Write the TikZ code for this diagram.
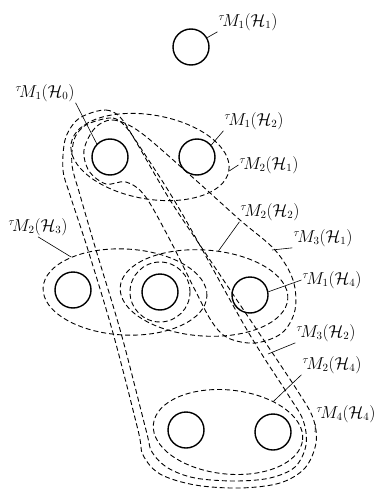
\documentclass[tikz,border=0pt]{standalone}
\usepackage{amsmath}
\usepackage{amssymb}
\usepackage{tikz}
\usetikzlibrary{shapes.geometric,calc}

\begin{document}
\begin{tikzpicture}[x=1pt, y=-1pt]
        % Style definitions
        \tikzset{
            ball/.style={draw, circle, minimum size=36pt, inner sep=0pt, line width=1.4pt},
            hull/.style={draw, dash pattern=on 5pt off 3pt, line width=0.9pt},
            oval/.style={hull, ellipse, inner sep=0pt},
            tag/.style={font=\fontsize{16}{18}\selectfont, inner sep=1pt},
            lead/.style={line width=0.6pt}
        }
        \useasboundingbox (0,0) rectangle (377,492);

        % Sets
        \node [ball] (T) at (191,47) {};
        \node [ball] (A) at (110,157) {};
        \node [ball] (B) at (197,157) {};
        \node [ball] (C) at (73,290) {};
        \node [ball] (D) at (160,292) {};
        \node [ball] (E) at (250,295) {};
        \node [ball] (F) at (186,430) {};
        \node [ball] (G) at (273,432) {};

        % Neighbourhoods
        \node [oval, minimum width=160pt, minimum height=84pt, rotate=-10] (AB) at (150,157) {};
        \node [oval, minimum width=164pt, minimum height=86pt, rotate=-3] (CD) at (125,292) {};
        \node [oval, minimum width=168pt, minimum height=86pt, rotate=-4] (DE) at (204,293) {};
        \node [hull, circle, minimum size=60pt, inner sep=0pt] (ringD) at (160,292) {};
        \node [oval, minimum width=150pt, minimum height=84pt, rotate=-6] (FG) at (228,432) {};

        % Long loops
        \draw [hull] plot [smooth cycle, tension=0.55] coordinates {
            (88,114) (106,110) (120,117) (135,140) (170,200) (210,260) (257,330)
            (297,390) (313,418) (316,443) (305,468) (280,483) (240,488) (195,485)
            (160,474) (143,455) (138,430) (113,333) (88,250) (70,195) (63,170)
            (65,140) (75,122)};
        \draw [hull] plot [smooth cycle, tension=0.55] coordinates {
            (96,121) (113,118) (125,126) (140,147) (180,210) (247,330) (287,393)
            (303,420) (306,445) (295,467) (270,478) (235,481) (195,478) (168,468)
            (152,452) (146,430) (121,333) (96,250) (80,195) (72,165) (74,140)
            (83,127)};
        \draw [hull] plot [smooth cycle, tension=0.55] coordinates {
            (95,128) (113,120) (140,132) (190,175) (240,220) (275,250) (293,280)
            (295,310) (282,333) (255,343) (228,338) (212,322) (195,290) (170,240)
            (145,196) (126,182) (106,184) (89,171) (84,150)};
        \coordinate (aeR) at (272,250);
        \coordinate (cross) at (268,354);
        \coordinate (outR) at (315,432);

        % Labels
        \node [tag] (tagT) at (248,22) {$^{\tau}\!M_1(\mathcal{H}_1)$};
        \node [tag] (tagA) at (45,93) {$^{\tau}\!M_1(\mathcal{H}_0)$};
        \node [tag] (tagB) at (254,121) {$^{\tau}\!M_1(\mathcal{H}_2)$};
        \node [tag] (tagAB) at (269,165) {$^{\tau}\!M_2(\mathcal{H}_1)$};
        \node [tag] (tagDE) at (270,212) {$^{\tau}\!M_2(\mathcal{H}_2)$};
        \node [tag] (tagAE) at (323,238) {$^{\tau}\!M_3(\mathcal{H}_1)$};
        \node [tag] (tagCD) at (38,227) {$^{\tau}\!M_2(\mathcal{H}_3)$};
        \node [tag] (tagE) at (332,280) {$^{\tau}\!M_1(\mathcal{H}_4)$};
        \node [tag] (tagX) at (326,333) {$^{\tau}\!M_3(\mathcal{H}_2)$};
        \node [tag] (tagFG) at (332,365) {$^{\tau}\!M_2(\mathcal{H}_4)$};
        \node [tag] (tagO) at (346,414) {$^{\tau}\!M_4(\mathcal{H}_4)$};

        % Leaders
        \draw [lead] (T.30) -- (tagT.south west);
        \draw [lead] (tagA.south east) -- (A.135);
        \draw [lead] (tagB.south west) -- (B.40);
        \draw [lead] (tagAB.west) -- (AB.east);
        \draw [lead] (tagDE.south west) -- (DE.75);
        \draw [lead] (tagAE.south west) -- (aeR);
        \draw [lead] (tagCD.south) -- (CD.150);
        \draw [lead] (tagE.west) -- (E.10);
        \draw [lead] (tagX.south west) -- (cross);
        \draw [lead] (tagFG.south west) -- (FG.40);
        \draw [lead] (tagO.south west) -- (outR);
    \end{tikzpicture}
\end{document}
